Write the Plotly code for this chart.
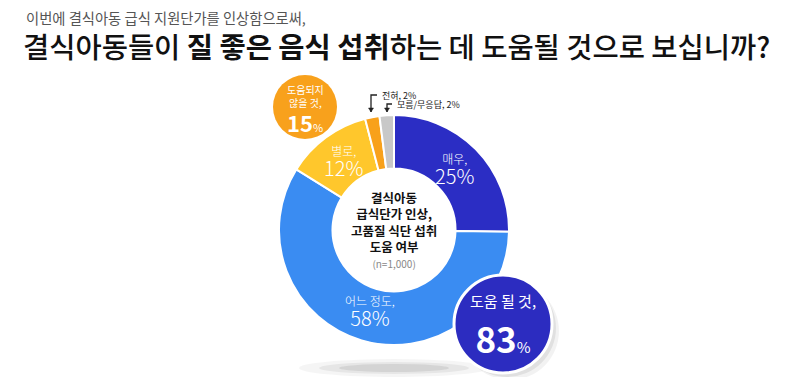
import math
import plotly.graph_objects as go

# page is 790x385; the html body adds an 8px margin, so the figure is drawn 8px in
PAGE_W, PAGE_H = 790, 385
OFF = 8
W, H = PAGE_W - 2 * OFF, PAGE_H - 2 * OFF

# ---------------- data ----------------
categories = ["매우", "어느 정도", "별로", "전혀", "모름/무응답"]
shares = [25, 58, 12, 2, 2]
colors = ["#2B2DC4", "#3A8CF2", "#FFC72C", "#F8A11B", "#C8C8C8"]
summary_labels = ["도움 될 것", "도움되지 않을 것"]
summary_values = [83, 15]
sample_n = "1,000"
subtitle = "이번에 결식아동 급식 지원단가를 인상함으로써,"
center_lines = ["결식아동", "급식단가 인상,", "고품질 식단 섭취", "도움 여부"]

FONT = "Noto Sans CJK KR"


def px(x):
    return (x - OFF) / W


def py(y):
    return 1 - (y - OFF) / H


CX, CY, R = 394, 230, 115

fig = go.Figure(go.Pie(
    labels=categories, values=shares, sort=False, direction="clockwise",
    rotation=0, hole=0.535,
    marker=dict(colors=colors, line=dict(color="white", width=2)),
    textinfo="none",
    domain=dict(x=[px(CX - R), px(CX + R)], y=[py(CY + R), py(CY - R)]),
    showlegend=False, hoverinfo="skip",
))

shapes = []
# soft shadow under the donut
for rx, ry, op in [(95, 9, 0.04), (75, 6, 0.06), (55, 4, 0.08)]:
    shapes.append(dict(type="circle", xref="paper", yref="paper",
                       x0=px(CX - rx), x1=px(CX + rx), y0=py(368 + ry), y1=py(368 - ry),
                       fillcolor=f"rgba(0,0,0,{op})", line=dict(width=0), layer="below"))

# summary bubbles
bx, by, br = 503, 324, 49
for dx, op in [(7, 0.05), (4, 0.07)]:
    shapes.append(dict(type="circle", xref="paper", yref="paper",
                       x0=px(bx - br + dx), x1=px(bx + br + dx), y0=py(by + br + dx), y1=py(by - br + dx),
                       fillcolor=f"rgba(0,0,0,{op})", line=dict(width=0)))
shapes.append(dict(type="circle", xref="paper", yref="paper",
                   x0=px(bx - br), x1=px(bx + br), y0=py(by + br), y1=py(by - br),
                   fillcolor="#2C2CC0", line=dict(color="white", width=3)))
ox, oy, orr = 305, 107, 32
shapes.append(dict(type="circle", xref="paper", yref="paper",
                   x0=px(ox - orr), x1=px(ox + orr), y0=py(oy + orr), y1=py(oy - orr),
                   fillcolor="#F8A11C", line=dict(width=0)))

# connectors for the tiny slices
for (x0, y0, y1, x1) in [(371, 112, 95, 377), (387, 112, 104, 392)]:
    shapes.append(dict(type="path", xref="paper", yref="paper",
                       path=f"M {px(x0)} {py(y0)} L {px(x0)} {py(y1)} L {px(x1)} {py(y1)}",
                       line=dict(color="#222", width=1.3)))
    shapes.append(dict(type="path", xref="paper", yref="paper",
                       path=f"M {px(x0-2.5)} {py(y0-4)} L {px(x0+2.5)} {py(y0-4)} L {px(x0)} {py(y0)} Z",
                       fillcolor="#222", line=dict(color="#222", width=0.5)))

ann = []
ann.append(dict(x=px(24), y=py(17), text=subtitle, showarrow=False, xanchor="left", yanchor="middle",
                font=dict(family=FONT, size=14.3, color="#555")))
ann.append(dict(x=px(21), y=py(45),
                text="결식아동들이 <b>질 좋은 음식 섭취</b>하는 데 도움될 것으로 보십니까?",
                showarrow=False, xanchor="left", yanchor="middle",
                font=dict(family=FONT, size=28.5, color="#111", weight=500)))

# slice labels, placed at the middle angle of each slice
total = sum(shares)
cum = 0
for c, v in zip(categories, shares):
    mid = (cum + v / 2) / total * 2 * math.pi
    cum += v
    if v < 5:
        continue
    lx = CX + 85 * math.sin(mid)
    ly = CY - 85 * math.cos(mid)
    ann.append(dict(x=px(lx), y=py(ly), showarrow=False, xanchor="center", yanchor="middle",
                    text=f"<span style='font-size:12px'>{c},</span><br>"
                         f"<span style='font-size:20px'>{v}%</span>",
                    font=dict(family=FONT, size=15.5, color="white", weight=300)))

# center text
ctext = "<br>".join(f"<b>{l}</b>" for l in center_lines)
ctext += f"<br><span style='font-size:10px;fill:#888'>(n={sample_n})</span>"
ann.append(dict(x=px(CX), y=py(229), text=ctext, showarrow=False,
                xanchor="center", yanchor="middle",
                font=dict(family=FONT, size=12.5, color="#111")))

# tiny slice labels
ann.append(dict(x=px(380), y=py(95), text=f"{categories[3]}, {shares[3]}%", showarrow=False,
                xanchor="left", yanchor="middle", font=dict(family=FONT, size=9, color="#222")))
ann.append(dict(x=px(395), y=py(104), text=f"{categories[4]}, {shares[4]}%", showarrow=False,
                xanchor="left", yanchor="middle", font=dict(family=FONT, size=9, color="#222")))

# bubble texts
ann.append(dict(x=px(bx), y=py(326), showarrow=False, xanchor="center", yanchor="middle",
                text=f"<span style='font-size:15px'>{summary_labels[0]},</span><br>"
                     f"<b>{summary_values[0]}</b><span style='font-size:15px'>%</span>",
                font=dict(family=FONT, size=35, color="white")))
ann.append(dict(x=px(ox), y=py(96), showarrow=False, xanchor="center", yanchor="middle",
                text="도움되지<br>않을 것,",
                font=dict(family=FONT, size=10, color="white")))
ann.append(dict(x=px(ox), y=py(122), showarrow=False, xanchor="center", yanchor="middle",
                text=f"<b>{summary_values[1]}</b><span style='font-size:11px'>%</span>",
                font=dict(family=FONT, size=22, color="white")))

fig.update_layout(width=W, height=H, margin=dict(l=0, r=0, t=0, b=0),
                  paper_bgcolor="white", plot_bgcolor="white",
                  shapes=shapes, annotations=ann, font=dict(family=FONT))

fig.write_html("out.html")
